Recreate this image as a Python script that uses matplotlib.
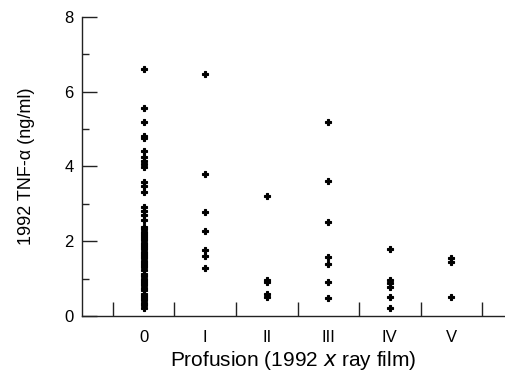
#!/usr/bin/env python
"""TNF-alpha (1992) against x ray film profusion category."""

import matplotlib

matplotlib.use("Agg")
import matplotlib.pyplot as plt
from matplotlib.ticker import FixedLocator, MultipleLocator

plt.rcParams["font.family"] = ["Liberation Sans", "DejaVu Sans"]

# Profusion categories and TNF-alpha readings (ng/ml)
categories = ["0", "I", "II", "III", "IV", "V"]
tnf_0 = [6.60, 5.55, 5.18, 4.80, 4.76, 4.42, 4.25, 4.15, 4.06, 3.99,
         3.59, 3.48, 3.32, 2.92, 2.81, 2.70, 2.57, 2.39, 2.32, 2.25,
         2.20, 2.14, 2.08, 2.02, 1.96, 1.90, 1.85, 1.78, 1.72, 1.66,
         1.60, 1.55, 1.48, 1.42, 1.36, 1.30, 1.22, 1.12, 1.06, 1.00,
         0.94, 0.88, 0.82, 0.76, 0.70, 0.60, 0.54, 0.48, 0.42, 0.36,
         0.30, 0.22]
tnf_1 = [6.47, 3.79, 2.79, 2.27, 1.76, 1.60, 1.27]
tnf_2 = [3.21, 0.96, 0.90, 0.58, 0.52]
tnf_3 = [5.18, 3.62, 2.52, 1.59, 1.38, 0.90, 0.47]
tnf_4 = [1.78, 0.96, 0.87, 0.78, 0.52, 0.21]
tnf_5 = [1.54, 1.45, 0.52]

groups = [tnf_0, tnf_1, tnf_2, tnf_3, tnf_4, tnf_5]

fig = plt.figure(figsize=(5.05, 3.72), dpi=100)
ax = fig.add_axes([0.1624, 0.1505, 0.8376, 0.8046])

for i, vals in enumerate(groups):
    ax.plot([i] * len(vals), vals, linestyle="none", marker="P",
            markersize=5.0, color="black", markeredgewidth=0.8)

ax.set_xlim(-1, 5.87)
ax.set_ylim(0, 8)

for side in ("top", "right"):
    ax.spines[side].set_visible(False)
for side in ("left", "bottom"):
    ax.spines[side].set_linewidth(1.0)
    ax.spines[side].set_color("#222222")

# category labels sit between the tick marks
ax.xaxis.set_major_locator(FixedLocator(range(len(categories))))
ax.set_xticklabels(categories)
ax.xaxis.set_minor_locator(FixedLocator([i - 0.5 for i in range(len(categories) + 1)]))
ax.tick_params(axis="x", which="major", length=0, pad=10, labelsize=12)
ax.tick_params(axis="x", which="minor", direction="in", length=10, width=1.0,
               color="#222222")

ax.yaxis.set_major_locator(MultipleLocator(2))
ax.yaxis.set_minor_locator(MultipleLocator(1))
ax.tick_params(axis="y", which="major", direction="in", length=10.5, width=1.0,
               pad=6, labelsize=12, color="#222222")
ax.tick_params(axis="y", which="minor", direction="in", length=5, width=1.0,
               color="#222222")

ax.set_xlabel("Profusion (1992 $\\it{x}$ ray film)", fontsize=15, labelpad=3)
ax.set_ylabel("1992 TNF-\u03b1 (ng/ml)", fontsize=13, labelpad=21)

fig.savefig("out.png", dpi=100)
